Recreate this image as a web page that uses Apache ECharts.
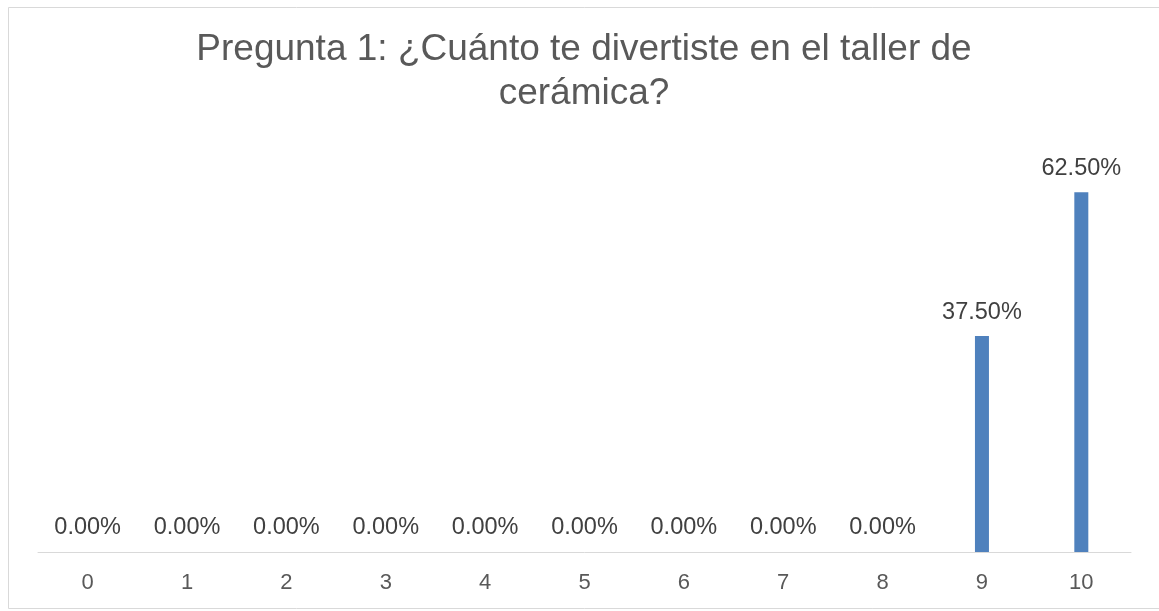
<!DOCTYPE html>
<html>
<head>
<meta charset="utf-8">
<script src="https://cdn.jsdelivr.net/npm/echarts@6/dist/echarts.min.js"></script>
<style>
html,body{margin:0;padding:0;background:#fff;}
#c{width:1159px;height:611px;}
</style>
</head>
<body>
<div id="c"></div>
<script>
const titleText = 'Pregunta 1: ¿Cuánto te divertiste en el taller de\ncerámica?';
const categories = ['0','1','2','3','4','5','6','7','8','9','10'];
const values = [0, 0, 0, 0, 0, 0, 0, 0, 0, 0.375, 0.625];

const chart = echarts.init(document.getElementById('c'), null, {renderer: 'canvas'});
chart.setOption({
  animation: false,
  backgroundColor: '#ffffff',
  graphic: [{
    type: 'rect',
    shape: {x: 8.5, y: 7.5, width: 1160, height: 601},
    style: {fill: 'none', stroke: '#d9d9d9', lineWidth: 1},
    silent: true
  }],
  title: {
    text: titleText,
    left: 584,
    textAlign: 'center',
    top: 28,
    padding: 0,
    textStyle: {
      fontFamily: 'Liberation Sans, Arial, sans-serif',
      fontSize: 37,
      fontWeight: 'normal',
      color: '#595959',
      lineHeight: 44
    }
  },
  grid: {left: 38, right: 28, top: 149, bottom: 59, containLabel: false},
  xAxis: {
    type: 'category',
    data: categories,
    axisLine: {lineStyle: {color: '#d9d9d9', width: 1}},
    axisTick: {show: false},
    axisLabel: {
      color: '#595959',
      fontSize: 22,
      fontFamily: 'Liberation Sans, Arial, sans-serif',
      margin: 20
    }
  },
  yAxis: {
    type: 'value',
    min: 0,
    max: 0.7,
    show: false,
    splitLine: {show: false}
  },
  series: [{
    type: 'bar',
    data: values,
    barWidth: 14,
    itemStyle: {color: '#4f81bd'},
    label: {
      show: true,
      position: 'top',
      distance: 12,
      color: '#404040',
      fontSize: 23.5,
      fontFamily: 'Liberation Sans, Arial, sans-serif',
      formatter: p => (p.value * 100).toFixed(2) + '%'
    }
  }]
});
</script>
</body>
</html>
